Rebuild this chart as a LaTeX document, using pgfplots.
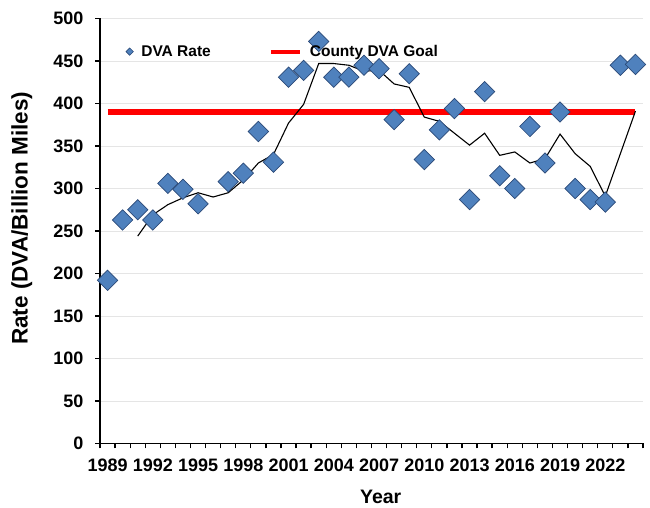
\documentclass[border=0pt]{standalone}
\usepackage{fontspec}
\setmainfont{Liberation Sans}
\usepackage{pgfplots}
\usepackage{pgfplotstable}
\pgfplotsset{compat=1.18}
\definecolor{dvafill}{HTML}{4F81BD}
\definecolor{dvaedge}{HTML}{2B4A78}
\definecolor{goalred}{HTML}{FF0000}
\pgfplotstableread{
year rate
1989 192
1990 263
1991 275
1992 263
1993 306
1994 299
1995 282
1997 308
1998 318
1999 367
2000 331
2001 431
2002 439
2003 473
2004 431
2005 431
2006 445
2007 441
2008 381
2009 435
2010 334
2011 369
2012 394
2013 287
2014 414
2015 315
2016 300
2017 373
2018 330
2019 390
2020 300
2021 287
2022 284
2023 445
2024 446
}\dvadata
\pgfplotstableread{
year ma
1991 244
1992 269
1993 281
1994 289
1995 295
1996 290
1997 295
1998 310
1999 330
2000 340
2001 377
2002 399
2003 447
2004 447
2005 445
2006 438
2007 439
2008 423
2009 419
2010 384
2011 379
2012 365
2013 351
2014 365
2015 339
2016 343
2017 330
2018 335
2019 364
2020 341
2021 326
2022 291
2024 391
}\madata
\begin{document}
\begin{tikzpicture}
\begin{axis}[
  at={(0,0)}, anchor=south west,
  scale only axis, width=543pt, height=425pt,
  xmin=1988.5, xmax=2024.5, ymin=0, ymax=500,
  axis x line*=bottom, axis y line*=left,
  axis line style={line width=1.6pt, black},
  xtick={1988.5,1989.5,...,2024.5},
  xticklabels={},
  extra x ticks={1989,1992,...,2022},
  extra x tick style={major tick length=0pt, xticklabel style={yshift=-12pt}},
  ytick={0,50,...,500},
  yticklabel style={xshift=-8pt},
  tick align=outside,
  major tick length=5pt,
  every tick/.style={black, line width=1.3pt},
  ymajorgrids, grid style={black!10, line width=0.8pt},
  /pgf/number format/assume math mode=true,
  /pgf/number format/1000 sep={},
  ticklabel style={font=\bfseries\fontsize{18}{20}\selectfont},
  xlabel={Year}, ylabel={Rate (DVA/Billion Miles)},
  xlabel style={font=\bfseries\fontsize{19.5}{22}\selectfont, at={(axis description cs:0.517,-0.126)}, anchor=center},
  ylabel style={font=\bfseries\fontsize{22.5}{25}\selectfont, at={(axis description cs:-0.144,0.53)}, anchor=center},
  legend columns=2,
  legend style={draw=none, fill=none, font=\bfseries\fontsize{15.5}{17}\selectfont,
    at={(axis description cs:0.042,0.922)}, anchor=west,
    /tikz/every odd column/.append style={column sep=6pt},
    /tikz/every even column/.append style={column sep=56pt}},
  clip=false,
]
\addlegendimage{only marks, mark=square*, mark size=2.6pt, mark options={rotate=45, fill=dvafill, draw=dvaedge, line width=0.6pt}}
\addlegendentry{DVA Rate}
\addlegendimage{legend image code/.code={\draw[goalred, line width=4pt] (0pt,0pt) -- (29pt,0pt);}}
\addlegendentry{County DVA Goal}
\addplot[goalred, line width=5.8pt, forget plot] coordinates {(1989,390) (2024,390)};
\addplot[only marks, mark=square*, mark size=7.2pt, mark options={rotate=45, fill=dvafill, draw=dvaedge, line width=0.7pt}, forget plot] table[x=year, y=rate] {\dvadata};
\addplot[black, line width=1.1pt, forget plot] table[x=year, y=ma] {\madata};
\end{axis}
\path (-100pt,-62.5pt) rectangle (550pt,443.5pt);
\end{tikzpicture}
\end{document}
